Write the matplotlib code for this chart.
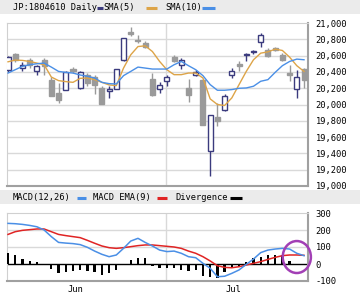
#!/usr/bin/env python3
"""Daily candlestick chart with SMA overlays and a MACD panel."""
import matplotlib
matplotlib.use("Agg")
import matplotlib.pyplot as plt
from matplotlib.patches import Ellipse, Rectangle
from matplotlib.lines import Line2D
import numpy as np

# ----- data ------------------------------------------------------------------
opens  = [20420, 20618, 20447, 20549, 20406, 20549, 20305, 20142, 20183, 20435,
          20203, 20366, 20338, 20203, 20171, 20191, 20549, 20890, 20793, 20760,
          20313, 20191, 20285, 20582, 20480, 20203, 20366, 20297, 19431, 19846,
          19931, 20366, 20500, 20606, 20643, 20772, 20663, 20691, 20610, 20386,
          20191, 20435]
highs  = [20600, 20638, 20516, 20569, 20488, 20569, 20338, 20264, 20410, 20455,
          20410, 20386, 20366, 20224, 20224, 20440, 20820, 20955, 20854, 20777,
          20386, 20272, 20366, 20610, 20569, 20313, 20419, 20310, 19870, 20021,
          20134, 20447, 20528, 20630, 20671, 20874, 20691, 20711, 20638, 20488,
          20427, 20447]
lows   = [20400, 20516, 20406, 20447, 20366, 20366, 20102, 20021, 20175, 20386,
          20195, 20224, 20134, 20012, 20081, 20185, 20530, 20841, 20752, 20691,
          20102, 20142, 20232, 20516, 20435, 20028, 20345, 19744, 19126, 19736,
          19919, 20325, 20406, 20528, 20618, 20711, 20582, 20659, 20528, 20285,
          20081, 20203]
closes = [20585, 20549, 20488, 20488, 20476, 20476, 20102, 20061, 20399, 20406,
          20399, 20264, 20244, 20012, 20195, 20435, 20813, 20866, 20777, 20703,
          20122, 20244, 20338, 20528, 20541, 20122, 20394, 19744, 19866, 19797,
          20110, 20406, 20476, 20622, 20659, 20854, 20598, 20663, 20549, 20366,
          20338, 20305]

sma5  = [20524, 20545, 20541, 20528, 20508, 20488, 20337, 20293, 20281, 20272,
         20321, 20325, 20305, 20272, 20240, 20232, 20447, 20610, 20711, 20720,
         20650, 20528, 20427, 20366, 20366, 20386, 20386, 20325, 20069, 20000,
         19988, 20081, 20244, 20406, 20549, 20630, 20646, 20679, 20663, 20581,
         20476, 20406]
sma10 = [20386, 20427, 20468, 20488, 20500, 20508, 20459, 20406, 20394, 20386,
         20362, 20346, 20325, 20272, 20256, 20252, 20354, 20406, 20459, 20447,
         20435, 20435, 20435, 20488, 20528, 20476, 20427, 20354, 20244, 20175,
         20175, 20183, 20199, 20203, 20224, 20285, 20305, 20394, 20476, 20528,
         20557, 20549]

macd   = [239, 237, 233, 227, 219, 200, 161, 127, 123, 120,
          114, 98, 76, 57, 43, 53, 92, 135, 151, 127,
          106, 82, 73, 76, 63, 43, 37, 4, -25, -75,
          -72, -55, -35, -2, 29, 67, 82, 88, 92, 88,
          63, 49]
signal = [174, 190, 198, 202, 206, 206, 190, 174, 167, 161,
          155, 139, 122, 106, 96, 92, 96, 102, 108, 112,
          112, 108, 104, 100, 92, 76, 63, 43, 18, -10,
          -20, -22, -16, -6, 4, 14, 27, 39, 49, 53,
          53, 51]
diverg = [63, 53, 29, 18, 10, 0, -29, -55, -49, -41,
          -37, -41, -45, -65, -55, -35, 0, 23, 37, 33,
          -12, -25, -25, -21, -35, -41, -35, -69, -75, -82,
          -45, -22, -16, 10, 33, 43, 53, 53, 53, 18,
          0, -6]

price_ticks = [19000, 19200, 19400, 19600, 19800, 20000, 20200, 20400, 20600, 20800, 21000]
macd_ticks = [-100, 0, 100, 200, 300]
month_labels = ["Jun", "Jul"]
month_pos = [9.3, 31.2]
july_start = 21.9

# ----- style -----------------------------------------------------------------
W, H = 360, 296
NAVY, GREY = "#3b3b7e", "#9a9a9a"
ORANGE, BLUE, RED = "#dda448", "#4a8fe6", "#e02424"
GRID, STRIP = "#d9d9d9", "#ebebeb"
FONT = dict(family="DejaVu Sans Mono", size=6.3)
plt.rcParams["font.family"] = "DejaVu Sans Mono"


def fx(px):
    return px / W


def fy(py):
    return 1 - py / H


fig = plt.figure(figsize=(W / 100, H / 100), dpi=100)
fig.patch.set_facecolor("white")

# header strips
fig.patches.append(Rectangle((0, fy(14)), 1, 14 / H, transform=fig.transFigure,
                             facecolor=STRIP, edgecolor="none", zorder=0))
fig.patches.append(Rectangle((0, fy(204)), 1, 14 / H, transform=fig.transFigure,
                             facecolor=STRIP, edgecolor="none", zorder=0))


def legend_item(x0, x1, ypx, color):
    fig.lines.append(Line2D([fx(x0), fx(x1)], [fy(ypx), fy(ypx)], transform=fig.transFigure,
                            color=color, lw=2.2, solid_capstyle="butt"))


fig.text(fx(13), fy(7.5), "JP:1804610 Daily", va="center", ha="left", **FONT)
legend_item(97, 103, 7.5, NAVY)
fig.text(fx(103.5), fy(7.5), "SMA(5)", va="center", ha="left", **FONT)
legend_item(146, 157, 7.5, ORANGE)
fig.text(fx(165), fy(7.5), "SMA(10)", va="center", ha="left", **FONT)
legend_item(202, 215, 7.5, BLUE)

fig.text(fx(13), fy(197.5), "MACD(12,26)", va="center", ha="left", **FONT)
legend_item(77, 86, 197.5, BLUE)
fig.text(fx(93), fy(197.5), "MACD EMA(9)", va="center", ha="left", **FONT)
legend_item(157, 167, 197.5, RED)
fig.text(fx(175), fy(197.5), "Divergence", va="center", ha="left", **FONT)
legend_item(230, 242, 197.5, "black")

x = np.arange(len(opens))
xlim = (-0.14, 41.55)

# ----- price panel -----------------------------------------------------------
ax = fig.add_axes([fx(7), fy(186), fx(308) - fx(7), (186 - 23) / H])
ax.set_xlim(*xlim)
ax.set_ylim(19000, 21000)
for p in price_ticks[1:-1]:
    ax.axhline(p, color=GRID, lw=1, zorder=0)
ax.axvline(july_start, color=GRID, lw=1, zorder=0)

for i in x:
    o, h, l, c = opens[i], highs[i], lows[i], closes[i]
    up = c >= o
    col = NAVY if up else GREY
    ax.vlines(i, l, h, color=col, lw=1, zorder=2)
    ax.bar(i, max(abs(c - o), 14), bottom=min(o, c), width=0.7,
           facecolor="white" if up else GREY, edgecolor=col, lw=1, zorder=3)

ax.plot(x, sma5, color=ORANGE, lw=1, zorder=4)
ax.plot(x, sma10, color=BLUE, lw=1, zorder=4)

ax.set_yticks(price_ticks)
ax.set_yticklabels([f"{p:,}" for p in price_ticks], **FONT)
ax.yaxis.tick_right()
ax.tick_params(axis="y", length=0, pad=5.5)
ax.set_xticks([])

# ----- MACD panel ------------------------------------------------------------
ax2 = fig.add_axes([fx(7), fy(281), fx(308) - fx(7), (281 - 213) / H])
ax2.set_xlim(*xlim)
ax2.set_ylim(-100, 300)
for v in (100, 200):
    ax2.axhline(v, color=GRID, lw=1, zorder=0)
ax2.axvline(july_start, color=GRID, lw=1, zorder=0)
ax2.axhline(0, color="black", lw=1, zorder=2)
ax2.bar(x, diverg, width=0.32, color="black", zorder=3)
ax2.plot(x, signal, color=RED, lw=1.1, zorder=4)
ax2.plot(x, macd, color=BLUE, lw=1.1, zorder=5)
ax2.add_patch(Ellipse((40.0, 41), 3.9, 188, fill=False, edgecolor="#a23fb5",
                      lw=1.8, zorder=6, clip_on=False))

ax2.set_yticks(macd_ticks)
ax2.set_yticklabels([str(v) for v in macd_ticks], **FONT)
ax2.yaxis.tick_right()
ax2.tick_params(axis="y", length=0, pad=5.5)
ax2.set_xticks(month_pos)
ax2.set_xticklabels(month_labels, **FONT)
ax2.tick_params(axis="x", length=0, pad=3)

for a in (ax, ax2):
    a.set_facecolor("white")
    for s in ("left", "top"):
        a.spines[s].set_color("#d0d0d0")
        a.spines[s].set_linewidth(0.8)
    for s in ("right", "bottom"):
        a.spines[s].set_color("#a0a0a0")
        a.spines[s].set_linewidth(1.5)

fig.savefig("out.png", dpi=100)
